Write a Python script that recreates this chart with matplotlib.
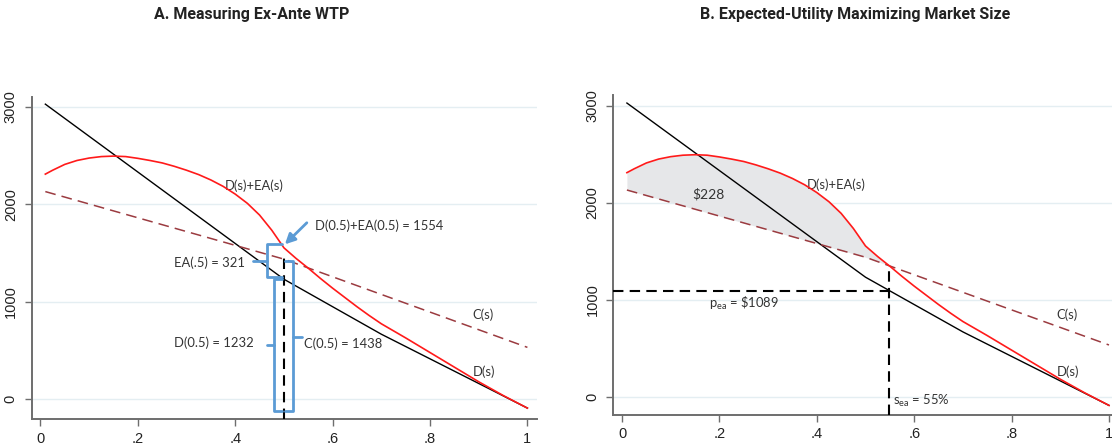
import matplotlib
matplotlib.use("Agg")
import matplotlib.pyplot as plt
import numpy as np
from matplotlib import font_manager

# ---------------- data ----------------
s_ea_curve = [0.01, 0.025, 0.05, 0.075, 0.10, 0.125, 0.15, 0.175, 0.20, 0.225,
              0.25, 0.275, 0.30, 0.325, 0.35, 0.375, 0.40, 0.425, 0.45, 0.475,
              0.50, 0.525, 0.55, 0.575, 0.60, 0.625, 0.65, 0.675, 0.70, 0.75,
              0.80, 0.85, 0.90, 0.95, 1.00]
d_plus_ea = [2310, 2350, 2410, 2450, 2475, 2490, 2495, 2490, 2472, 2450,
             2425, 2390, 2350, 2305, 2250, 2185, 2105, 2010, 1890, 1735,
             1554, 1445, 1345, 1240, 1140, 1045, 950, 860, 775, 630,
             480, 330, 180, 40, -90]

s_demand = [0.01, 0.50, 0.70, 1.00]
demand = [3028, 1232, 668, -90]

s_cost = [0.01, 0.50, 1.00]
cost = [2131, 1438, 533]

x_ticks = [0, 0.2, 0.4, 0.6, 0.8, 1.0]
x_tick_labels = ["0", ".2", ".4", ".6", ".8", "1"]
y_ticks = [0, 1000, 2000, 3000]
y_tick_labels = ["0", "1000", "2000", "3000"]

titles = ["A. Measuring Ex-Ante WTP", "B. Expected-Utility Maximizing Market Size"]

s_half = 0.5
D_half = 1232
C_half = 1438
EA_half = 321
DEA_half = 1554

s_opt = 0.548      # s_ea = 55%
p_opt = 1089
v_cross = 1351     # where D+EA crosses C
surplus_label = "$228"

# ---------------- style ----------------
RED = "#ff1a1a"
MAROON = "#9b3b40"
BLUE = "#5b9bd5"
GRID = "#e4eef2"
SPINE = "#6e6e6e"
FILL = "#e6e7e9"
label_font = ["Lato", "DejaVu Sans"]
tick_font = ["Liberation Sans", "DejaVu Sans"]

fig = plt.figure(figsize=(11.12, 4.47), dpi=100)
axA = fig.add_axes([0.0285, 0.0626, 0.4541, 0.7210])
axB = fig.add_axes([0.5515, 0.0716, 0.4541, 0.7159])


def style_axes(ax, ylim):
    ax.set_xlim(-0.018, 1.019)
    ax.set_ylim(*ylim)
    for side in ("top", "right"):
        ax.spines[side].set_visible(False)
    for side in ("left", "bottom"):
        ax.spines[side].set_color(SPINE)
        ax.spines[side].set_linewidth(1.4)
    ax.set_xticks(x_ticks)
    ax.set_xticklabels(x_tick_labels, fontfamily=tick_font, fontsize=10.5)
    ax.set_yticks(y_ticks)
    ax.set_yticklabels(y_tick_labels, fontfamily=tick_font, fontsize=10.5,
                       rotation=90, va="center")
    ax.tick_params(axis="both", direction="out", length=5, width=1,
                   color=SPINE, labelcolor="#222222")
    ax.tick_params(axis="x", pad=4)
    ax.tick_params(axis="y", pad=5)
    for yv in y_ticks:
        ax.axhline(yv, color=GRID, lw=1.0, zorder=0)


def draw_curves(ax):
    ax.plot(s_demand, demand, color="black", lw=1.0, zorder=3)
    ax.plot(s_cost, cost, color=MAROON, lw=1.1, dashes=(7, 4), zorder=3)
    ax.plot(s_ea_curve, d_plus_ea, color=RED, lw=1.2, zorder=4,
            solid_joinstyle="round")


def txt(ax, x, y, s, size=9.4, **kw):
    ax.text(x, y, s, fontfamily=label_font, fontsize=size, color="#333333",
            va="center", **kw)


# ---------------- Panel A ----------------
style_axes(axA, (-202, 3104))
draw_curves(axA)
yA0 = axA.get_ylim()[0]
axA.plot([s_half, s_half], [yA0, C_half + 10], color="black", lw=1.5,
         dashes=(5, 3), zorder=5)


def brace(ax, xv, xhook, xtip, top, bottom, mid):
    ax.plot([xhook, xv, xv, xhook], [top, top, bottom, bottom], color=BLUE,
            lw=2.0, solid_joinstyle="round", solid_capstyle="round", zorder=6)
    ax.plot([xv, xtip], [mid, mid], color=BLUE, lw=2.0,
            solid_capstyle="round", zorder=6)


# EA brace
brace(axA, 0.465, 0.497, 0.437, 1590, D_half + 20, 1418)
# D brace
brace(axA, 0.480, 0.497, 0.465, D_half, -117, 557)
# C brace
brace(axA, 0.518, 0.502, 0.537, 1418, -117, 642)

axA.annotate("", xy=(0.502, 1590), xytext=(0.547, 1811),
             arrowprops=dict(arrowstyle="-|>,head_length=0.6,head_width=0.3",
                             color=BLUE, lw=2.0, shrinkA=0, shrinkB=0),
             zorder=7)

txt(axA, 0.379, 2190, "D(s)+EA(s)")
txt(axA, 0.564, 1777, f"D(0.5)+EA(0.5) = {DEA_half}")
txt(axA, 0.42, 1400, f"EA(.5) = {EA_half}", ha="right")
txt(axA, 0.438, 580, f"D(0.5) = {D_half}", ha="right")
txt(axA, 0.541, 567, f"C(0.5) = {C_half}")
txt(axA, 0.888, 866, "C(s)")
txt(axA, 0.888, 284, "D(s)")

# ---------------- Panel B ----------------
style_axes(axB, (-189, 3111))
s_arr = np.array(s_ea_curve)
red_arr = np.array(d_plus_ea, dtype=float)
cost_on_grid = np.interp(s_arr, s_cost, cost)
mask = s_arr <= s_opt
fill_s = np.append(s_arr[mask], s_opt)
fill_top = np.append(red_arr[mask], v_cross)
fill_bot = np.append(cost_on_grid[mask], v_cross)
axB.fill_between(fill_s, fill_bot, fill_top, color=FILL, lw=0, zorder=1)
draw_curves(axB)
yB0 = axB.get_ylim()[0]
axB.plot([-0.018, s_opt], [p_opt, p_opt], color="black", lw=1.5,
         dashes=(5, 3), zorder=5)
axB.plot([s_opt, s_opt], [yB0, v_cross], color="black", lw=1.5,
         dashes=(5, 3), zorder=5)

txt(axB, 0.145, 2090, surplus_label, size=10)
txt(axB, 0.380, 2183, "D(s)+EA(s)")
txt(axB, 0.179, 961, r"p$_{\mathregular{ea}}$ = \$" + str(p_opt))
txt(axB, 0.892, 847, "C(s)")
txt(axB, 0.892, 262, "D(s)")
txt(axB, 0.556, -48, r"s$_{\mathregular{ea}}$ = 55%")

# ---------------- titles ----------------
names = {f.name for f in font_manager.fontManager.ttflist}
if "DejaVu Sans Condensed" in names:
    title_kw = dict(fontfamily="DejaVu Sans Condensed", fontsize=12.5)
else:
    title_kw = dict(fontfamily=["Roboto", "DejaVu Sans"], fontsize=11.5,
                    fontstretch="condensed")
fig.text(252 / 1112, 1 - 15 / 447, titles[0], ha="center", va="center",
         fontweight="bold", color="#222222", **title_kw)
fig.text(855 / 1112, 1 - 15 / 447, titles[1], ha="center", va="center",
         fontweight="bold", color="#222222", **title_kw)

fig.savefig("out.png", dpi=100)
